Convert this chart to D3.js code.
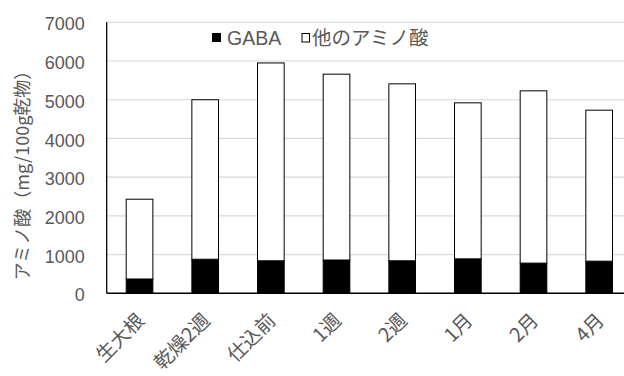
<!DOCTYPE html>
<html>
<head>
<meta charset="utf-8">
<script src="https://cdn.jsdelivr.net/npm/d3@7"></script>
<style>
  html, body { margin: 0; padding: 0; background: #fff; }
  svg { display: block; }
</style>
</head>
<body>
<svg id="chart" width="624" height="376"></svg>
<script>
const categories = ['生大根', '乾燥2週', '仕込前', '1週', '2週', '1月', '2月', '4月'];
const gaba = [370, 880, 840, 860, 840, 890, 780, 830];
const otherAmino = [2060, 4120, 5110, 4800, 4570, 4030, 4450, 3900];
const yTicks = [0, 1000, 2000, 3000, 4000, 5000, 6000, 7000];
const seriesNames = ['GABA', '他のアミノ酸'];
const yTitle = 'アミノ酸（mg/100g乾物）';

const CJK = '"Noto Sans CJK JP", sans-serif';
const LAT = '"Liberation Sans", Arial, sans-serif';
const TXT = '#595959';

const svg = d3.select('#chart');
const pLeft = 106.7, pRight = 632, pTop = 22.3, pBottom = 293.3;

const x = d3.scaleBand().domain(categories).range([pLeft, pRight]).padding(0);
const y = d3.scaleLinear().domain([0, 7000]).range([pBottom, pTop]);
const barW = x.bandwidth() * 0.406;

// gridlines
svg.append('g').selectAll('line').data(yTicks.filter(d => d > 0)).join('line')
  .attr('x1', pLeft).attr('x2', pRight)
  .attr('y1', d => y(d)).attr('y2', d => y(d))
  .attr('stroke', '#d9d9d9').attr('stroke-width', 1.2);

// y tick labels
const yAxis = d3.axisLeft(y).tickValues(yTicks).tickFormat(d3.format('d')).tickSize(0).tickPadding(22);
const gy = svg.append('g').attr('transform', `translate(${pLeft},0)`).call(yAxis);
gy.select('.domain').remove();
gy.selectAll('text').attr('font-size', 18).attr('fill', TXT)
  .style('font-family', LAT).attr('dy', '0.42em');

// stacked data
const rows = categories.map((c, i) => ({ cat: c, gaba: gaba[i], other: otherAmino[i] }));
const stack = d3.stack().keys(['gaba', 'other'])(rows);
const fills = ['#000000', '#ffffff'];

svg.append('g').selectAll('g').data(stack).join('g')
  .attr('fill', (d, i) => fills[i])
  .selectAll('rect').data(d => d).join('rect')
  .attr('x', d => x(d.data.cat) + (x.bandwidth() - barW) / 2)
  .attr('width', barW)
  .attr('y', d => y(d[1]))
  .attr('height', d => y(d[0]) - y(d[1]))
  .attr('stroke', '#000').attr('stroke-width', 1);

// axes lines
svg.append('line').attr('x1', pLeft).attr('x2', pLeft).attr('y1', pTop).attr('y2', pBottom)
  .attr('stroke', '#000').attr('stroke-width', 1.3);
svg.append('line').attr('x1', pLeft).attr('x2', pRight).attr('y1', pBottom).attr('y2', pBottom)
  .attr('stroke', '#000').attr('stroke-width', 1.5);

// x labels
const xAxis = d3.axisBottom(x).tickSize(0);
const gx = svg.append('g').attr('transform', `translate(0,${pBottom})`).call(xAxis);
gx.select('.domain').remove();
gx.selectAll('text')
  .attr('font-size', 19.5).attr('fill', TXT)
  .style('font-family', CJK)
  .attr('text-anchor', 'end')
  .attr('y', 0).attr('dy', 0)
  .attr('transform', 'translate(6,28.5) rotate(-45)');

// y title
svg.append('text')
  .attr('transform', `translate(29,171) rotate(-90)`)
  .attr('text-anchor', 'middle')
  .attr('font-size', 18).attr('fill', TXT)
  .style('font-family', CJK)
  .text(yTitle);

// legend
const lg = svg.append('g');
lg.append('rect').attr('x', 212).attr('y', 33).attr('width', 9).attr('height', 9).attr('fill', '#000');
lg.append('text').attr('x', 227).attr('y', 45).attr('font-size', 19.5).attr('fill', TXT)
  .style('font-family', LAT).text(seriesNames[0]);
lg.append('rect').attr('x', 302).attr('y', 33.5).attr('width', 7.5).attr('height', 8.5)
  .attr('fill', '#fff').attr('stroke', '#000').attr('stroke-width', 1);
lg.append('text').attr('x', 312).attr('y', 45).attr('font-size', 19.5).attr('fill', TXT)
  .style('font-family', CJK).text(seriesNames[1]);
</script>
</body>
</html>
